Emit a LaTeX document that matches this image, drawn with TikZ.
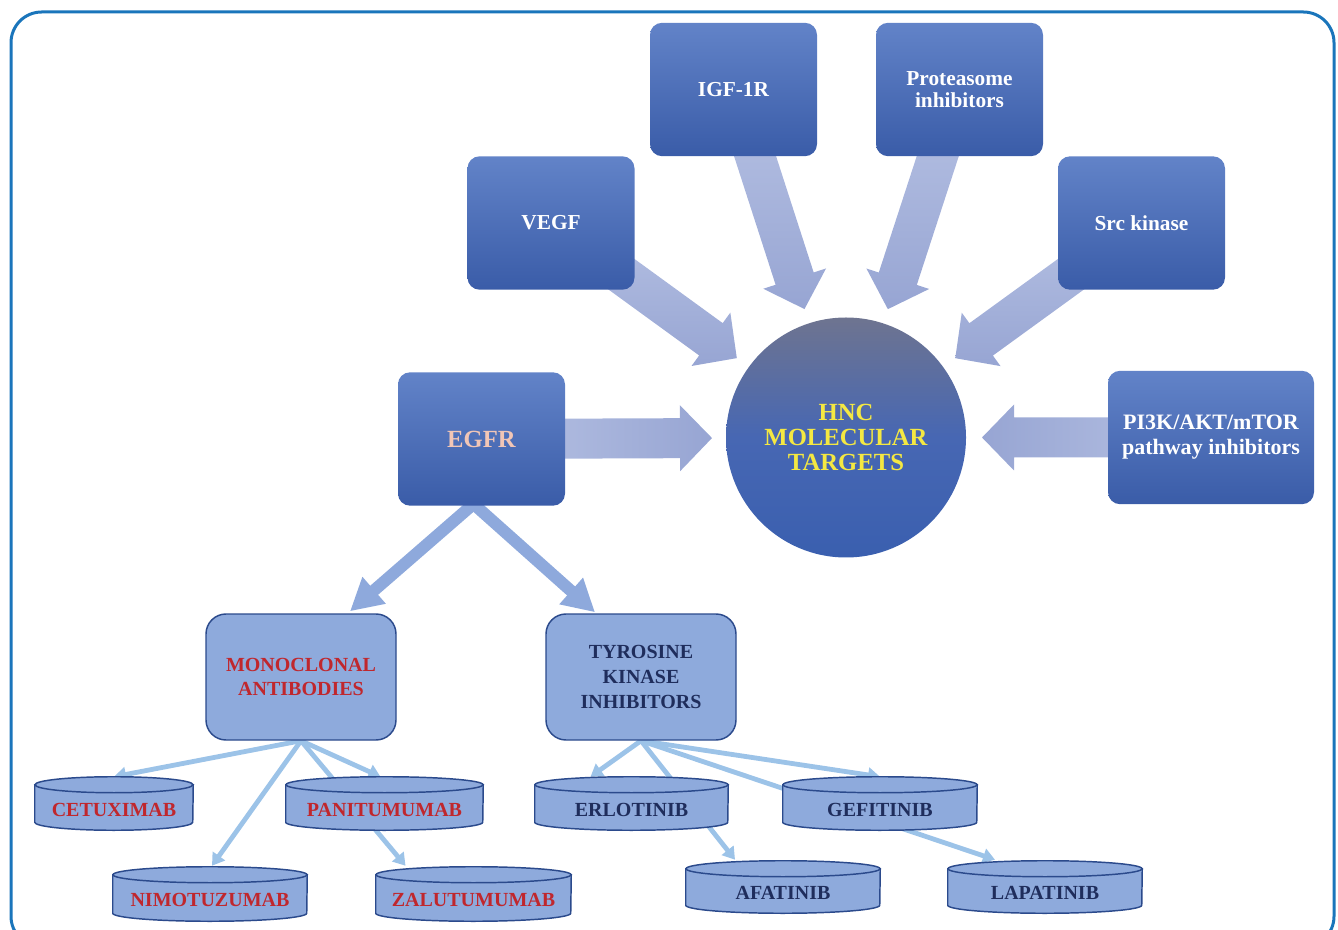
\documentclass[tikz,border=0pt]{standalone}
\usepackage{fontspec}
\setmainfont{Liberation Serif}
\usetikzlibrary{calc,arrows.meta}
\pgfdeclarelayer{bg}
\pgfdeclarelayer{mid}
\pgfsetlayers{bg,mid,main}
\definecolor{frame}{HTML}{1A75BB}
\definecolor{boxtop}{HTML}{6283C8}
\definecolor{boxbot}{HTML}{3A5CA8}
\definecolor{warrtail}{HTML}{B8C3E4}
\definecolor{warrhead}{HTML}{97A5D3}
\definecolor{subfill}{HTML}{8EAADC}
\definecolor{subedge}{HTML}{2B4A8C}
\definecolor{egfrarr}{HTML}{8EA9DC}
\definecolor{thinarr}{HTML}{9CC3E8}
\definecolor{redtxt}{HTML}{C0272D}
\definecolor{navytxt}{HTML}{1F2D5C}
\definecolor{hncyellow}{HTML}{F4E842}
\definecolor{egfrtxt}{HTML}{F2C6B6}
\definecolor{circtop}{HTML}{6E7490}
\definecolor{circmid}{HTML}{4767B3}
\definecolor{circbot}{HTML}{3A5FAF}

\newcommand\cylnode[7]{%
  \node[cylbox, minimum width=#4*0.75pt, minimum height=#5*0.75pt] (#1) at (#2,#3) {};
  \begin{pgfonlayer}{mid}
    \path[cylsty] ($(#1.north west)+(0,-8)$) -- ($(#1.south west)+(0,8)$)
      arc[start angle=180, end angle=360, x radius=#4*0.375pt, y radius=6pt]
      -- ($(#1.north east)+(0,-8)$) -- cycle;
    \path[cylsty] ($(#1.north)+(0,-8)$) ellipse[x radius=#4*0.375pt, y radius=6pt];
  \end{pgfonlayer}
  \node[cyltext, text=#6] (#1-t) at ($(#1.center)+(0,-6)$) {#7};
}

\newcommand\widearrow[3]{%
  \coordinate (wa-h) at ($(#2)!24pt!(#1)$);
  \path[#3] ($(#1)!15pt!90:(#2)$) -- ($(wa-h)!15pt!90:(#2)$)
     -- ($(wa-h)!24.75pt!90:(#2)$) -- (#2)
     -- ($(wa-h)!24.75pt!-90:(#2)$) -- ($(wa-h)!15pt!-90:(#2)$)
     -- ($(#1)!15pt!-90:(#2)$) -- cycle;
}

\begin{document}
\begin{tikzpicture}[x=0.75pt,y=0.75pt,
  darkbox/.style={rectangle, rounded corners=9pt, top color=boxtop, bottom color=boxbot,
    draw=none, minimum width=125.25pt, minimum height=100pt, inner sep=0pt, align=center,
    text=white, font=\fontsize{16}{16.5}\selectfont\bfseries},
  subbox/.style={rectangle, rounded corners=15pt, fill=subfill, draw=subedge, line width=1.1pt,
    minimum width=142.5pt, minimum height=94.5pt, align=center, inner sep=0pt,
    font=\fontsize{15}{18}\selectfont\bfseries},
  cylbox/.style={rectangle, draw=none, inner sep=0pt},
  cylsty/.style={fill=subfill, draw=subedge, line width=1.1pt},
  cyltext/.style={font=\fontsize{15}{18}\selectfont\bfseries, inner sep=0pt},
  egfrline/.style={draw=egfrarr, line width=9pt, -{Triangle[width=25pt,length=24pt]}},
  thinarrow/.style={draw=thinarr, line width=3.6pt, -{Triangle[width=11pt,length=9pt]}},
]
\useasboundingbox (0,0) rectangle (1338,929);

% top boxes
\node[darkbox] (igf) at (733.5,839.5) {IGF-1R};
\node[darkbox] (prot) at (959.5,839.5) {Proteasome\\inhibitors};
\node[darkbox] (vegf) at (551,706) {VEGF};
\node[darkbox] (src) at (1141.5,706) {Src kinase};
\node[darkbox, text=egfrtxt, font=\fontsize{18.5}{20}\selectfont\bfseries] (egfr) at (481.5,490) {EGFR};
\node[darkbox, minimum width=154.5pt, font=\fontsize{16.5}{18.75}\selectfont\bfseries] (pi3k) at (1211,491.5) {PI3K/AKT/mTOR\\pathway inhibitors};
\node[circle, minimum size=180pt, inner sep=0pt, top color=circtop, bottom color=circbot,
  middle color=circmid, text=hncyellow, align=center,
  font=\fontsize{18.5}{19}\selectfont\bfseries] (hnc) at (846,491.5) {HNC\\MOLECULAR\\TARGETS};

% sub boxes
\node[subbox, text=redtxt] (mono) at (301,252) {MONOCLONAL\\ANTIBODIES};
\node[subbox, text=navytxt, font=\fontsize{15}{18.75}\selectfont\bfseries] (tki) at (641,252) {TYROSINE\\KINASE\\INHIBITORS};

% cylinders
\cylnode{cet}{114}{125.5}{158}{53}{redtxt}{CETUXIMAB}
\cylnode{pani}{384.5}{125.5}{197}{53}{redtxt}{PANITUMUMAB}
\cylnode{nimo}{210}{35}{194}{54}{redtxt}{NIMOTUZUMAB}
\cylnode{zalu}{473.5}{35}{195}{54}{redtxt}{ZALUTUMUMAB}
\cylnode{erlo}{631.5}{125.5}{193}{53}{navytxt}{ERLOTINIB}
\cylnode{gefi}{880}{125.5}{194}{53}{navytxt}{GEFITINIB}
\cylnode{afa}{783}{42}{194}{52}{navytxt}{AFATINIB}
\cylnode{lapa}{1045}{42}{194}{52}{navytxt}{LAPATINIB}

\begin{pgfonlayer}{bg}
  \begin{scope}
    \clip (0,0) rectangle (1338,929);
    \draw[frame, line width=2.25pt, rounded corners=23pt] (11,-18) rectangle (1334,917);
  \end{scope}
  % wide arrows to the centre
  \coordinate (t-vegf) at ($(hnc.center)!101.25pt!(vegf.center)$);
  \coordinate (t-igf) at ($(hnc.center)!101.25pt!(igf.center)$);
  \coordinate (t-prot) at ($(hnc.center)!101.25pt!(prot.center)$);
  \coordinate (t-src) at ($(hnc.center)!101.25pt!(src.center)$);
  \coordinate (t-egfr) at ($(hnc.center)!100.5pt!(egfr.center)$);
  \coordinate (t-pi3k) at ($(hnc.center)!102pt!(pi3k.center)$);
  \widearrow{vegf.center}{t-vegf}{top color=warrtail,bottom color=warrhead}
  \widearrow{igf.center}{t-igf}{top color=warrtail,bottom color=warrhead}
  \widearrow{prot.center}{t-prot}{top color=warrtail,bottom color=warrhead}
  \widearrow{src.center}{t-src}{top color=warrtail,bottom color=warrhead}
  \widearrow{egfr.center}{t-egfr}{left color=warrtail,right color=warrhead}
  \widearrow{pi3k.center}{t-pi3k}{left color=warrhead,right color=warrtail}
  % EGFR to classes
  \coordinate (egfr-apex) at ($(egfr.south)+(-8,2)$);
  \draw[egfrline] (egfr-apex) -- ($(mono.north)+(49,2)$);
  \draw[egfrline] (egfr-apex) -- ($(tki.north)+(-46,1)$);
  % thin arrows
  \draw[thinarrow] (mono.south) -- (cet.north);
  \draw[thinarrow] (mono.south) -- ($(nimo.north)+(2,1)$);
  \draw[thinarrow] (mono.south) -- ($(pani.north)+(-4,0)$);
  \draw[thinarrow] (mono.south) -- ($(zalu.north)+(-68,1)$);
  \draw[thinarrow] (tki.south) -- ($(erlo.north)+(-41,0)$);
  \draw[thinarrow] (tki.south) -- ($(afa.north)+(-48,1)$);
  \draw[thinarrow] (tki.south) -- (gefi.north);
  \draw[thinarrow] (tki.south) -- ($(lapa.north)+(-50,1)$);
\end{pgfonlayer}
\end{tikzpicture}
\end{document}
